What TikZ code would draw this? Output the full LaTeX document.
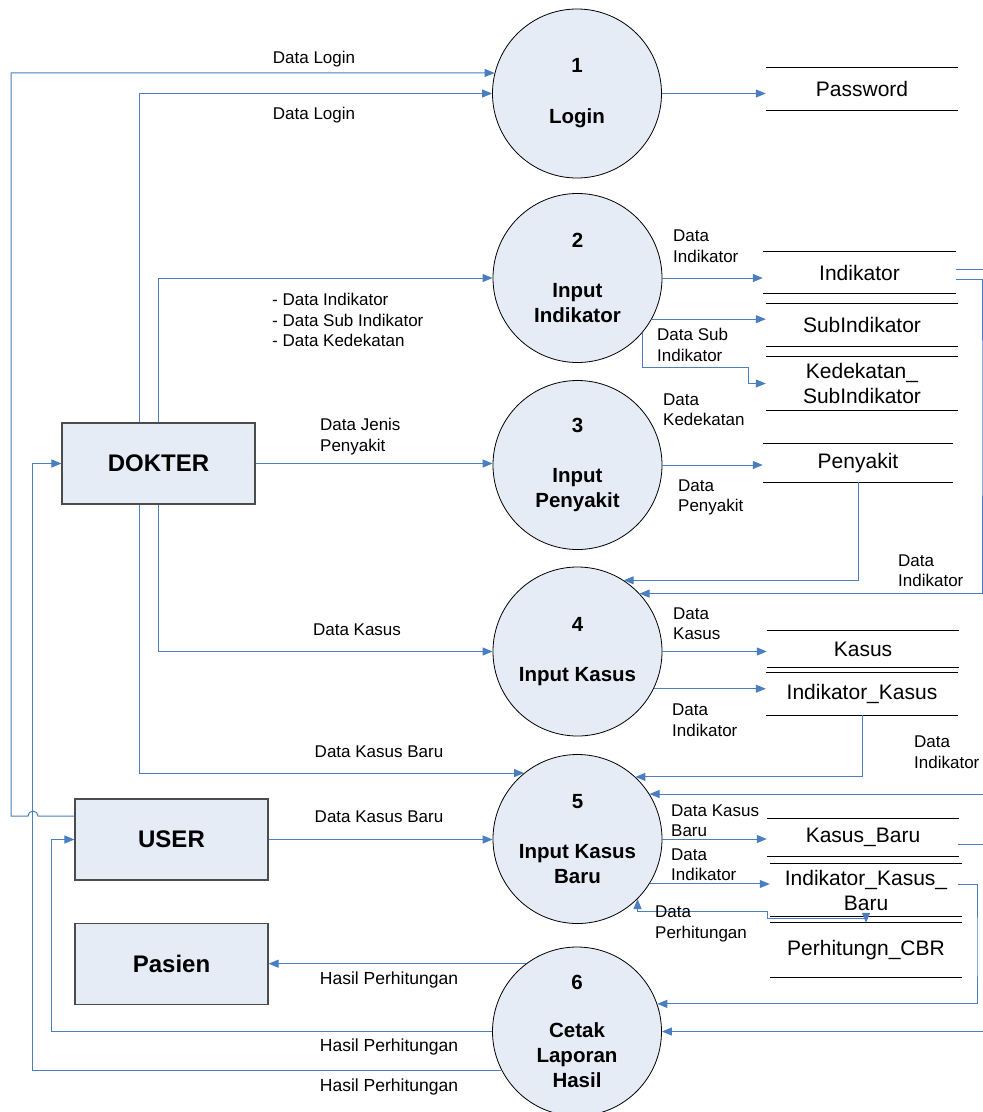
\documentclass[tikz,border=0pt]{standalone}
\usepackage{fontspec}
\setmainfont{Liberation Sans}
\usetikzlibrary{arrows.meta,calc}
\definecolor{flowblue}{RGB}{74,126,193}
\definecolor{procfill}{RGB}{230,236,246}
\newcommand\storelines[1]{\draw[sline] (#1.north west) -- (#1.north east) (#1.south west) -- (#1.south east);}
\begin{document}
\begin{tikzpicture}[x=1pt,y=-1pt,
 proc/.style={circle, draw=black, line width=0.8pt, fill=procfill, minimum size=169pt, inner sep=0pt, align=center, font=\fontsize{20.5}{25}\selectfont\bfseries},
 ent/.style={rectangle, draw=black!70, line width=1.1pt, fill=procfill, minimum width=193pt, minimum height=81pt, font=\fontsize{24}{28}\selectfont\bfseries},
 store/.style={minimum width=192pt, inner sep=0pt, align=center, font=\fontsize{21}{25}\selectfont},
 flow/.style={draw=flowblue, line width=1pt, -{Triangle[length=10pt,width=8pt]}},
 plain/.style={draw=flowblue, line width=1pt},
 lbl/.style={inner sep=0pt, align=left, font=\fontsize{17}{20.5}\selectfont},
 hlbl/.style={inner sep=0pt, font=\fontsize{17.5}{20}\selectfont},
 sline/.style={draw=black, line width=0.9pt}]
\useasboundingbox (0,0) rectangle (983,1112);

% processes
\node[proc] (c1) at (577,93.5) {1\\[26pt]Login};
\node[proc] (c2) at (577.5,278) {2\\[25pt]Input\\Indikator};
\node[proc] (c3) at (577.5,465) {3\\[25pt]Input\\Penyakit};
\node[proc] (c4) at (577.5,651.5) {4\\[25pt]Input Kasus};
\node[proc] (c5) at (577.5,839) {5\\[25pt]Input Kasus\\Baru};
\node[proc] (c6) at (577,1031.5) {6\\[23pt]Cetak\\Laporan\\Hasil};

% external entities
\node[ent] (dokter) at (158.5,463.5) {DOKTER};
\node[ent] (user) at (171.5,839.5) {USER};
\node[ent] (pasien) at (171.5,964) {Pasien};

% data stores
\node[store, minimum height=42pt] (pw) at (862,89) {Password};
\node[store, minimum width=193pt, minimum height=41pt] (ind) at (859.5,272.5) {Indikator};
\node[store, minimum height=42pt] (sub) at (862,325) {SubIndikator};
\node[store, minimum height=53pt] (ked) at (862,383.5) {Kedekatan\_\\SubIndikator};
\node[store, minimum width=190pt, minimum height=38pt] (pen) at (858,463) {Penyakit};
\node[store, minimum height=36pt] (kas) at (863,649) {Kasus};
\node[store, minimum height=42pt] (ikas) at (862,694) {Indikator\_Kasus};
\node[store, minimum height=37pt] (kb) at (863,837.5) {Kasus\_Baru};
\node[store, minimum height=52pt] (ikb) at (866,890) {Indikator\_Kasus\_\\Baru};
\node[store, minimum height=54pt] (cbr) at (866,950) {Perhitungn\_CBR};
\storelines{pw}
\storelines{ind}
\storelines{sub}
\storelines{ked}
\storelines{pen}
\storelines{kas}
\storelines{ikas}
\storelines{kb}
\storelines{ikb}
\storelines{cbr}

% helper coordinates
\coordinate (hopR) at (38,816);
\coordinate (loopBL) at (11,816);
\coordinate (kedbend) at (748,367);
\coordinate (rail1) at (982,400);
\coordinate (rail2) at (977,950);
\coordinate (stubA) at (983,269);
\coordinate (stubB) at (983,844);
\coordinate (inA) at (983,794);
\coordinate (inB) at (983,1032);
\coordinate (pbA) at (767,911);
\coordinate (pbB) at (800,918);

% flows from entities
\draw[flow] ([yshift=23.5pt]user.west) -- (hopR) arc[start angle=0,end angle=180,radius=5pt] -- (loopBL) |- (c1.166);
\draw[flow] ([xshift=-19.5pt]dokter.north) |- (c1.west);
\draw[flow] (dokter.north) |- (c2.west);
\draw[flow] (dokter.east) -- (dokter.east -| c3.west);
\draw[flow] (dokter.south) |- (c4.west);
\draw[flow] ([xshift=-19.5pt]dokter.south) |- (c5.129);
\draw[flow] (user.east) -- (user.east -| c5.west);

% process 1
\draw[flow] (c1.east) -- (c1.east -| pw.west);
% process 2
\draw[flow] (c2.east) -- (c2.east -| ind.west);
\draw[flow] (c2.-29) -- (c2.-29 -| sub.west);
\draw[flow] (c2.-40) |- (kedbend) |- (ked.west);
% process 3
\draw[flow] (c3.east) -- (c3.east -| pen.west);
\draw[flow] (pen.south) |- (c4.57);
\draw[flow] ([xshift=-0.5pt,yshift=-6.5pt]ind.east) -| (rail1) |- (c4.43);
\draw[plain] ([xshift=-0.5pt,yshift=3.5pt]ind.east) -- (stubA);
% process 4
\draw[flow] (c4.east) -- (c4.east -| kas.west);
\draw[flow] (c4.-26) -- (c4.-26 -| ikas.west);
\draw[flow] (ikas.south) |- (c5.47);
\draw[flow] (inA |- c5.32) -- (c5.32);
% process 5
\draw[flow] (c5.east) -- (c5.east -| kb.west);
\draw[flow] (c5.-32) -- (c5.-32 -| ikb.west);
\draw[plain, {Triangle[length=10pt,width=8pt]}-{Triangle[length=10pt,width=8pt]}] (c5.-45) |- (pbA) |- (pbB) -| (cbr.north);
\draw[plain] ([xshift=-1pt,yshift=-6.5pt]kb.east) -- (stubB);
\draw[flow] ([xshift=-4pt,yshift=6pt]ikb.east) -| (rail2) |- (c6.19);
\draw[flow] (inB |- c6.east) -- (c6.east);
% process 6
\draw[flow] (c6.127) -- (c6.127 -| pasien.east);
\draw[flow] (c6.west) -| ([xshift=-23pt]user.west) -- (user.west);
\draw[flow] (c6.207) -| ([xshift=-29pt]dokter.west) -- (dokter.west);

% labels
\node[lbl] (tL1) at (314,59) {Data Login};
\node[lbl] (tL2) at (314,115) {Data Login};
\node[lbl, anchor=west] (tL3) at (272,320) {- Data Indikator\\- Data Sub Indikator\\- Data Kedekatan};
\node[lbl, anchor=west] (tL4) at (320,436.5) {Data Jenis\\Penyakit};
\node[lbl] (tL5) at (357,630) {Data Kasus};
\node[lbl] (tL6) at (379,752) {Data Kasus Baru};
\node[lbl] (tL7) at (379,817) {Data Kasus Baru};
\node[hlbl] (tL8) at (389,980) {Hasil Perhitungan};
\node[hlbl] (tL9) at (389,1047) {Hasil Perhitungan};
\node[hlbl] (tL10) at (389,1087) {Hasil Perhitungan};
\node[lbl, anchor=west] (tR1) at (673,246) {Data\\Indikator};
\node[lbl, anchor=west] (tR2) at (657,345) {Data Sub\\Indikator};
\node[lbl, anchor=west] (tR3) at (663,409.5) {Data\\Kedekatan};
\node[lbl, anchor=west] (tR4) at (678,497.5) {Data\\Penyakit};
\node[lbl, anchor=west] (tR5) at (898,570.5) {Data\\Indikator};
\node[lbl, anchor=west] (tR6) at (673,623.5) {Data\\Kasus};
\node[lbl, anchor=west] (tR7) at (672,720) {Data\\Indikator};
\node[lbl, anchor=west] (tR8) at (914,752) {Data\\Indikator};
\node[lbl, anchor=west] (tR9) at (671,820.5) {Data Kasus\\Baru};
\node[lbl, anchor=west] (tR10) at (671,864.5) {Data\\Indikator};
\node[lbl, anchor=west] (tR11) at (655,924) {Data\\Perhitungan};
\end{tikzpicture}
\end{document}
